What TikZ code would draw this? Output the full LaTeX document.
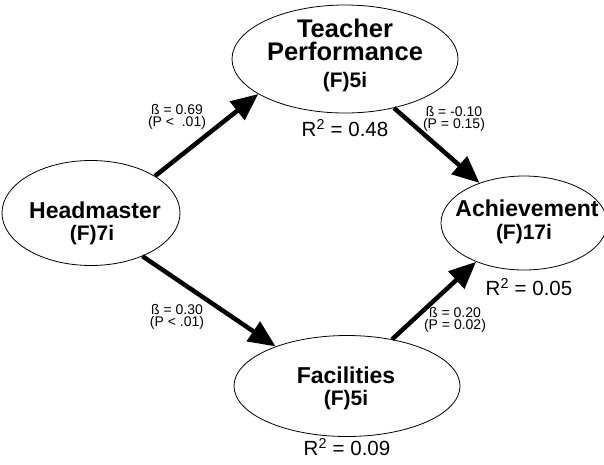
\documentclass[tikz,border=0pt]{standalone}
\usepackage{fontspec}
\setmainfont{Liberation Sans}
\usetikzlibrary{shapes.geometric,arrows.meta}
\begin{document}
\begin{tikzpicture}[x=1pt,y=-1pt,
  var/.style={draw, ellipse, line width=0.8pt, inner sep=0pt},
  bigtxt/.style={anchor=base, inner sep=0pt, font=\fontsize{25.5}{26}\selectfont\bfseries},
  nametxt/.style={anchor=base, inner sep=0pt, font=\fontsize{23}{23}\selectfont\bfseries},
  codetxt/.style={anchor=base, inner sep=0pt, font=\fontsize{21}{21}\selectfont\bfseries},
  pathar/.style={line width=4.5pt, -{Triangle[length=27pt,width=23pt]}},
  coef/.style={align=center, inner sep=0pt, font=\fontsize{14}{12.5}\selectfont},
  rsq/.style={inner sep=0pt, font=\fontsize{20.5}{21}\selectfont}]
\useasboundingbox (0,0) rectangle (604,464);
% ellipses
\node[var, minimum width=226pt, minimum height=108pt] (tp) at (345,59) {};
\node[var, minimum width=178pt, minimum height=105pt] (hm) at (91,213) {};
\node[var, minimum width=166pt, minimum height=94pt] (ac) at (524,223) {};
\node[var, minimum width=226pt, minimum height=101pt] (fa) at (347,386) {};
% texts
\node[bigtxt] (tp1) at (345,37) {Teacher};
\node[bigtxt] (tp2) at (345,60) {Performance};
\node[codetxt] (tp3) at (345,87) {(F)5i};
\node[nametxt] (hm1) at (95,218) {Headmaster};
\node[codetxt] (hm2) at (92,240) {(F)7i};
\node[nametxt] (ac1) at (527,216) {Achievement};
\node[codetxt] (ac2) at (524,239) {(F)17i};
\node[nametxt] (fa1) at (346,383) {Facilities};
\node[codetxt] (fa2) at (346,405) {(F)5i};

\node[rsq] (r1) at (345,128) {R\textsuperscript{2} = 0.48};
\node[rsq] (r2) at (529,287) {R\textsuperscript{2} = 0.05};
\node[rsq] (r3) at (347,447) {R\textsuperscript{2} = 0.09};

\draw[pathar] (hm.30) -- (tp.202);
\draw[pathar] (tp.315) -- (ac.138);
\draw[pathar] (hm.-40) -- (fa.151);
\draw[pathar] (fa.46) -- (ac.219);

\node[coef] (c1) at (177,117) {ß = 0.69\\(P <~ .01)};
\node[coef] (c2) at (454,119) {ß = -0.10\\(P = 0.15)};
\node[coef] (c3) at (177,317) {ß = 0.30\\(P < .01)};
\node[coef] (c4) at (455,320) {ß = 0.20\\(P = 0.02)};
\end{tikzpicture}
\end{document}
